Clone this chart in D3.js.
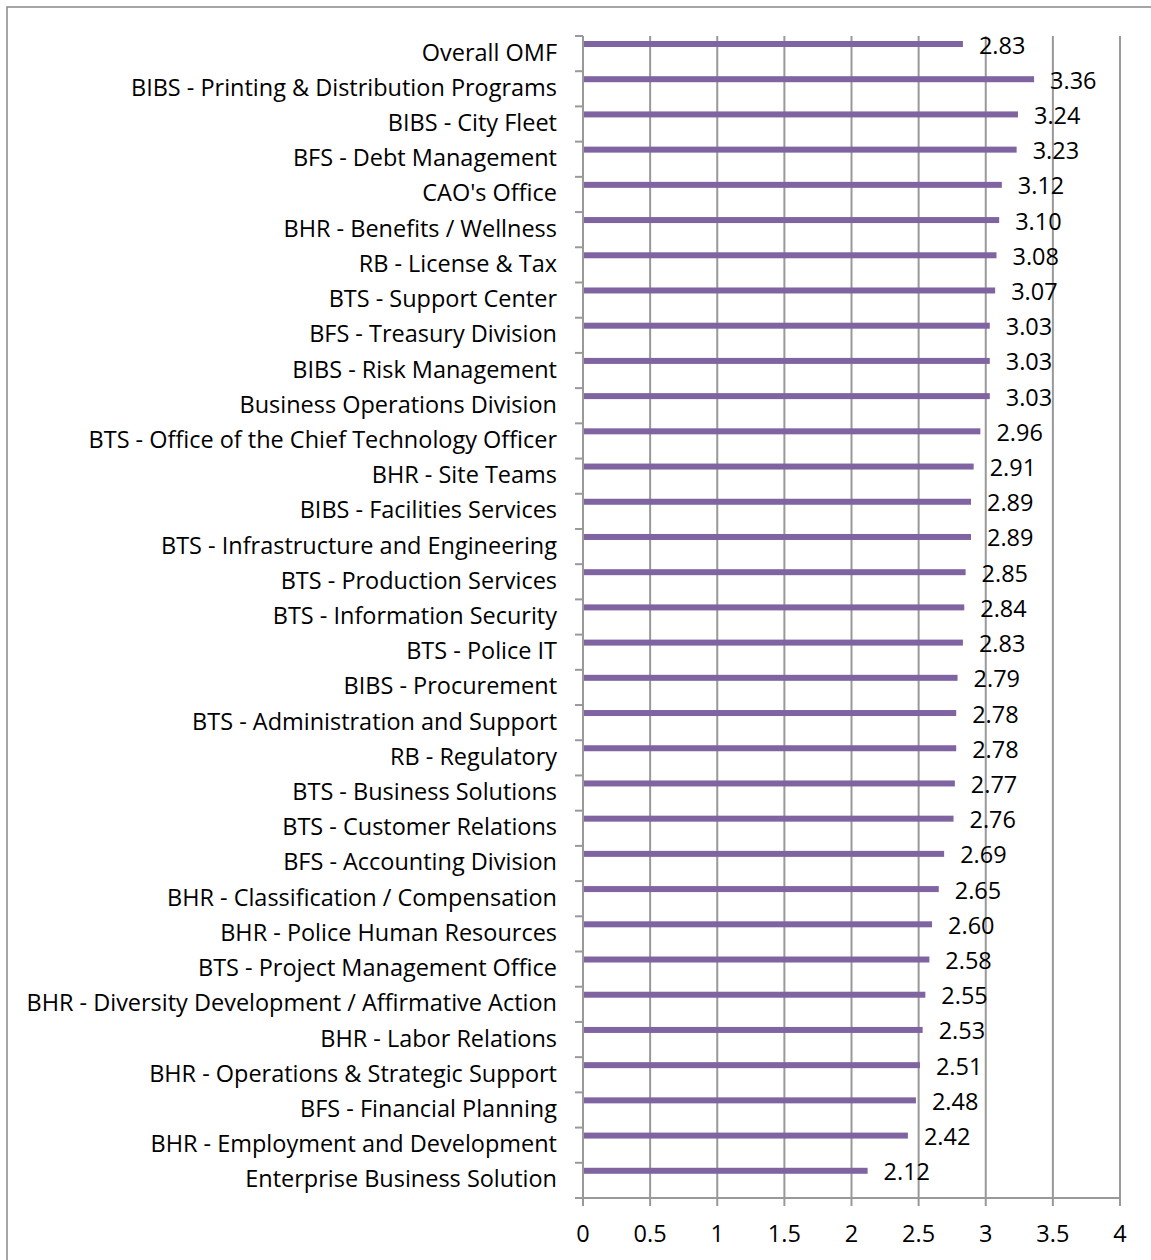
<!DOCTYPE html>
<html>
<head>
<meta charset="utf-8">
<script src="https://cdn.jsdelivr.net/npm/d3@7"></script>
<style>
  body { margin: 0; background: #fff; }
  svg { display: block; }
  text { font-family: "Open Sans", sans-serif; fill: #000; }
</style>
</head>
<body>
<svg id="chart" width="1151" height="1260"></svg>
<script>
// unit names, top to bottom as in the chart
const units = [
  'Overall OMF',
  'BIBS - Printing & Distribution Programs',
  'BIBS - City Fleet',
  'BFS - Debt Management',
  "CAO's Office",
  'BHR - Benefits / Wellness',
  'RB - License & Tax',
  'BTS - Support Center',
  'BFS - Treasury Division',
  'BIBS - Risk Management',
  'Business Operations Division',
  'BTS - Office of the Chief Technology Officer',
  'BHR - Site Teams',
  'BIBS - Facilities Services',
  'BTS - Infrastructure and Engineering',
  'BTS - Production Services',
  'BTS - Information Security',
  'BTS - Police IT',
  'BIBS - Procurement',
  'BTS - Administration and Support',
  'RB - Regulatory',
  'BTS - Business Solutions',
  'BTS - Customer Relations',
  'BFS - Accounting Division',
  'BHR - Classification / Compensation',
  'BHR - Police Human Resources',
  'BTS - Project Management Office',
  'BHR - Diversity Development / Affirmative Action',
  'BHR - Labor Relations',
  'BHR - Operations & Strategic Support',
  'BFS - Financial Planning',
  'BHR - Employment and Development',
  'Enterprise Business Solution'
];

const scores = [
  2.83, 3.36, 3.24, 3.23, 3.12, 3.10, 3.08, 3.07, 3.03, 3.03, 3.03,
  2.96, 2.91, 2.89, 2.89, 2.85, 2.84, 2.83, 2.79, 2.78, 2.78, 2.77,
  2.76, 2.69, 2.65, 2.60, 2.58, 2.55, 2.53, 2.51, 2.48, 2.42, 2.12
];

const xTicks = [0, 0.5, 1, 1.5, 2, 2.5, 3, 3.5, 4];

const data = units.map((u, i) => ({ unit: u, score: scores[i] }));

const svg = d3.select('#chart');
const margin = { top: 36, right: 31, bottom: 62, left: 583 };
const width = +svg.attr('width'), height = +svg.attr('height');
const gridColor = '#999';
const barColor = '#8064a2';

// pick a font size so the longest label is as wide as in the original (about 531px)
const probe = svg.append('text').attr('font-size', 20).text(units[27]);
const fontSize = 20 * 531 / probe.node().getComputedTextLength();
probe.remove();

// outer chart border (right and bottom edges fall outside the picture)
svg.append('rect')
  .attr('x', 7).attr('y', 7)
  .attr('width', width + 10).attr('height', height + 10)
  .attr('fill', 'none').attr('stroke', '#888').attr('stroke-width', 1.5);

const x = d3.scaleLinear().domain([0, 4]).range([margin.left, width - margin.right]);
const y = d3.scaleBand().domain(units).range([margin.top, height - margin.bottom]).padding(0);
const bw = y.bandwidth();

// vertical gridlines
svg.append('g')
  .selectAll('line')
  .data(xTicks.slice(1))
  .join('line')
  .attr('x1', d => x(d)).attr('x2', d => x(d))
  .attr('y1', margin.top).attr('y2', height - margin.bottom + 8)
  .attr('stroke', gridColor).attr('stroke-width', 2);

// y axis line with ticks at band edges
const yAxis = svg.append('g');
yAxis.append('line')
  .attr('x1', x(0)).attr('x2', x(0))
  .attr('y1', margin.top).attr('y2', height - margin.bottom + 8)
  .attr('stroke', gridColor).attr('stroke-width', 2);
yAxis.selectAll('.ytick')
  .data(units)
  .join('line')
  .attr('class', 'ytick')
  .attr('x1', x(0) - 8).attr('x2', x(0))
  .attr('y1', d => y(d)).attr('y2', d => y(d))
  .attr('stroke', gridColor).attr('stroke-width', 2);

// x axis line
svg.append('line')
  .attr('x1', x(0) - 8).attr('x2', x(4))
  .attr('y1', height - margin.bottom).attr('y2', height - margin.bottom)
  .attr('stroke', gridColor).attr('stroke-width', 2);

// x tick labels
svg.append('g')
  .selectAll('text')
  .data(xTicks)
  .join('text')
  .attr('x', d => x(d))
  .attr('y', height - margin.bottom + 35)
  .attr('text-anchor', 'middle')
  .attr('dominant-baseline', 'central')
  .attr('font-size', fontSize)
  .text(d => d);

// category labels
svg.append('g')
  .selectAll('text')
  .data(data)
  .join('text')
  .attr('x', 557)
  .attr('y', d => y(d.unit) + bw / 2 - 2)
  .attr('text-anchor', 'end')
  .attr('dominant-baseline', 'central')
  .attr('font-size', fontSize)
  .text(d => d.unit);

// bars sit near the top of each band
svg.append('g')
  .selectAll('rect')
  .data(data)
  .join('rect')
  .attr('x', x(0) + 1)
  .attr('y', d => y(d.unit) + 5)
  .attr('width', d => x(d.score) - x(0) - 1)
  .attr('height', 6)
  .attr('fill', barColor);

// value labels
svg.append('g')
  .selectAll('text')
  .data(data)
  .join('text')
  .attr('x', d => x(d.score) + 16)
  .attr('y', d => y(d.unit) + 8.5)
  .attr('dominant-baseline', 'central')
  .attr('font-size', fontSize)
  .text(d => d.score.toFixed(2));
</script>
</body>
</html>
